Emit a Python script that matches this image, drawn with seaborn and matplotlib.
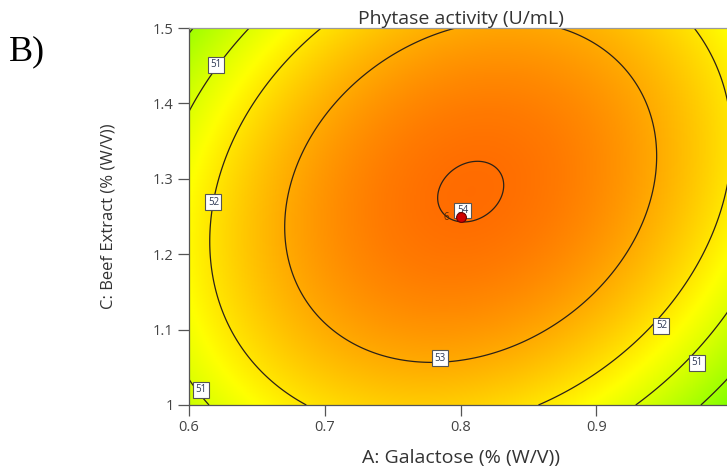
import numpy as np
import pandas as pd
import matplotlib
matplotlib.use("Agg")
import matplotlib.pyplot as plt
from matplotlib.colors import ListedColormap, hsv_to_rgb
import seaborn as sns

# Quadratic response-surface model in coded units
# a = (Galactose - 0.8) / 0.2,  c = (Beef extract - 1.25) / 0.25
b0 = 54.01
bA = 0.077
bC = 0.320
bAC = 0.723
bAA = -2.30
bCC = -1.315

# Axis ranges and ticks
galactose_range = [0.6, 1.0]
beef_range = [1.0, 1.5]
x_ticks = [0.6, 0.7, 0.8, 0.9]
y_ticks = [1.0, 1.1, 1.2, 1.3, 1.4, 1.5]
y_tick_labels = ["1", "1.1", "1.2", "1.3", "1.4", "1.5"]
contour_levels = [50, 51, 52, 53, 54]

# Contour label anchor points (Galactose, Beef extract)
label_x = [0.620, 0.618, 0.785, 0.8015, 0.948, 0.974, 0.609]
label_y = [1.451, 1.269, 1.062, 1.258, 1.105, 1.056, 1.020]

# Design points (centre point, 6 replicates)
design_x = [0.8]
design_y = [1.25]
design_reps = ["6"]

sns.set_theme(style="white")
plt.rcParams["font.family"] = ["Open Sans", "DejaVu Sans"]


def response(g, b):
    a = (g - 0.8) / 0.2
    c = (b - 1.25) / 0.25
    return b0 + bA * a + bC * c + bAC * a * c + bAA * a ** 2 + bCC * c ** 2


# Green -> yellow -> red hue ramp
vals = np.linspace(48, 56, 512)
hue = np.clip(40 + 14 * (53 - vals), 0, 240) / 360.0
hsv = np.stack([hue, np.ones_like(hue), np.ones_like(hue)], axis=1)
cmap = ListedColormap(hsv_to_rgb(hsv))

gx = np.linspace(galactose_range[0], galactose_range[1], 400)
gy = np.linspace(beef_range[0], beef_range[1], 400)
GX, GY = np.meshgrid(gx, gy)
Z = response(GX, GY)

fig = plt.figure(figsize=(7.27, 4.68), dpi=100)
ax = fig.add_axes([189 / 727, 63 / 468, 543 / 727, 377 / 468])

ax.imshow(Z, origin="lower", extent=[*galactose_range, *beef_range],
          cmap=cmap, vmin=48, vmax=56, aspect="auto", interpolation="bilinear")
cs = ax.contour(GX, GY, Z, levels=contour_levels, colors="#2b2118", linewidths=0.9)
anchors = list(zip(label_x, label_y))
labels = ax.clabel(cs, fmt="%d", inline=False, fontsize=7, colors="#2f3a55",
                   manual=anchors)
for t in labels:
    # keep each label box upright and centred on its anchor point
    px, py = t.get_position()
    nearest = min(anchors, key=lambda p: (p[0] - px) ** 2 + ((p[1] - py) * 0.8) ** 2)
    t.set_position(nearest)
    t.set_rotation(0)
    t.set_zorder(6)
    t.set_bbox(dict(facecolor="white", edgecolor="#555555", boxstyle="square,pad=0.25", linewidth=0.8))

pts = pd.DataFrame({"x": design_x, "y": design_y, "n": design_reps})
sns.scatterplot(data=pts, x="x", y="y", ax=ax, s=50, color="#d00000",
                edgecolor="#6a0000", linewidth=0.8, zorder=7, legend=False)
for _, r in pts.iterrows():
    ax.annotate(r["n"], (r["x"], r["y"]), xytext=(-10, -1), textcoords="offset points",
                ha="center", va="center", fontsize=7, color="#5a2a00")

ax.set_xlim(galactose_range)
ax.set_ylim(beef_range)
ax.set_xticks(x_ticks)
ax.set_xticklabels([f"{v:.1f}" for v in x_ticks])
ax.set_yticks(y_ticks)
ax.set_yticklabels(y_tick_labels)
ax.tick_params(axis="both", which="major", direction="out", length=8, width=0.9,
               color="#555555", labelsize=10.5, labelcolor="#444444", pad=3,
               bottom=True, left=True)

for side in ["left", "bottom"]:
    ax.spines[side].set_color("#555555")
    ax.spines[side].set_linewidth(0.9)
for side in ["top", "right"]:
    ax.spines[side].set_color("#9a9a9a")
    ax.spines[side].set_linewidth(0.9)

ax.set_xlabel("A: Galactose (% (W/V))", fontsize=14, color="#333333", labelpad=10)
ax.set_ylabel("C: Beef Extract (% (W/V))", fontsize=12, color="#333333", labelpad=26,
              family=["Liberation Sans Narrow", "Open Sans", "DejaVu Sans"])
ax.set_title("Phytase activity (U/mL)", fontsize=14, color="#333333", pad=3)

fig.text(9 / 727, 1 - 52 / 468, "B)", fontsize=26, color="black", va="center", ha="left",
         family=["Liberation Serif", "DejaVu Serif"])

fig.savefig("out.png", dpi=100)
